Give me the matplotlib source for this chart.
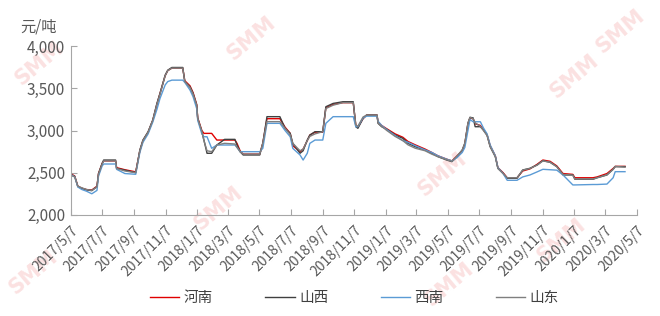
import matplotlib
matplotlib.use("Agg")
import matplotlib.pyplot as plt
import pandas as pd

plt.rcParams['font.family'] = ['Noto Sans CJK SC', 'DejaVu Sans']

dates = ["2017-05-07","2017-05-15","2017-05-21","2017-05-29","2017-06-07","2017-06-17","2017-06-27","2017-06-30",
         "2017-07-07","2017-07-10","2017-08-02","2017-08-04","2017-08-20","2017-09-10","2017-09-18","2017-09-24",
         "2017-10-04","2017-10-13","2017-10-21","2017-10-27","2017-11-06","2017-11-11","2017-11-19","2017-12-10",
         "2017-12-14","2017-12-24","2017-12-30","2018-01-06","2018-01-08","2018-01-16","2018-01-20","2018-01-26",
         "2018-02-04","2018-02-14","2018-03-01","2018-03-21","2018-03-25","2018-03-31","2018-04-06","2018-05-08",
         "2018-05-14","2018-05-22","2018-06-16","2018-06-26","2018-07-06","2018-07-11","2018-07-25","2018-07-31",
         "2018-08-08","2018-08-13","2018-08-23","2018-09-07","2018-09-13","2018-09-27","2018-10-16","2018-11-05",
         "2018-11-10","2018-11-14","2018-11-24","2018-12-01","2018-12-21","2018-12-23","2018-12-30","2019-01-09",
         "2019-01-25","2019-02-09","2019-02-19","2019-03-05","2019-03-24","2019-04-06","2019-04-18","2019-05-05",
         "2019-05-15","2019-05-25","2019-06-04","2019-06-09","2019-06-15","2019-06-19","2019-06-25","2019-06-29",
         "2019-07-09","2019-07-15","2019-07-22","2019-07-28","2019-08-07","2019-08-12","2019-08-22","2019-08-30",
         "2019-09-18","2019-09-29","2019-10-13","2019-10-27","2019-11-07","2019-11-21","2019-12-04","2019-12-16",
         "2020-01-04","2020-01-08","2020-02-12","2020-02-20","2020-03-10","2020-03-22","2020-03-26","2020-04-14"]

henan = [2490,2460,2340,2315,2300,2295,2340,2490,2610,2640,2640,2560,2535,2510,2760,2880,
         2980,3120,3310,3440,3650,3710,3740,3740,3590,3530,3450,3310,3150,3000,2966,2966,
         2966,2887,2887,2887,2848,2760,2720,2720,2850,3140,3140,3040,2966,2820,2750,2780,
         2880,2946,2980,2980,3270,3310,3330,3330,3060,3040,3140,3183,3183,3100,3060,3020,
         2960,2920,2870,2830,2780,2740,2700,2660,2640,2700,2760,2840,3080,3150,3140,3080,
         3060,3010,2950,2820,2700,2560,2500,2440,2440,2520,2545,2600,2650,2635,2580,2490,
         2480,2440,2440,2450,2490,2550,2575,2575]

shanxi = [2480,2455,2335,2315,2296,2287,2335,2490,2610,2650,2650,2552,2530,2500,2769,2887,
          2986,3124,3321,3440,3656,3715,3747,3747,3577,3518,3440,3301,3144,2986,2887,2730,
          2730,2828,2895,2895,2828,2749,2710,2710,2850,3164,3164,3026,2966,2848,2730,2760,
          2887,2946,2986,2986,3282,3321,3341,3341,3045,3026,3144,3183,3183,3085,3045,3014,
          2946,2907,2848,2808,2769,2730,2690,2650,2631,2690,2769,2848,3085,3156,3150,3045,
          3045,3006,2946,2808,2690,2552,2493,2434,2434,2532,2552,2592,2642,2623,2572,2473,
          2473,2422,2422,2440,2473,2540,2572,2572]

xinan = [2480,2450,2330,2300,2280,2250,2290,2460,2580,2603,2603,2540,2490,2481,2740,2860,
         2960,3100,3250,3380,3540,3580,3597,3597,3570,3480,3400,3260,3120,2960,2926,2926,
         2789,2828,2828,2828,2800,2749,2749,2749,2789,3085,3085,3000,2926,2789,2710,2650,
         2730,2848,2887,2887,3085,3164,3164,3164,3045,3045,3150,3170,3170,3110,3060,3010,
         2940,2880,2860,2820,2770,2740,2700,2660,2640,2680,2740,2800,3000,3130,3104,3104,
         3104,3030,2960,2830,2700,2560,2490,2410,2410,2450,2473,2510,2540,2535,2530,2473,
         2355,2355,2360,2360,2365,2440,2512,2512]

shandong = [2470,2450,2340,2320,2300,2290,2330,2480,2600,2640,2640,2550,2520,2500,2760,2880,
            2980,3120,3310,3430,3650,3710,3740,3740,3580,3510,3430,3300,3140,2990,2880,2760,
            2749,2828,2848,2840,2800,2749,2720,2720,2850,3105,3105,3026,2950,2848,2760,2780,
            2880,2930,2960,2986,3260,3300,3330,3330,3065,3050,3160,3183,3183,3090,3050,3000,
            2930,2880,2830,2790,2760,2720,2690,2655,2635,2700,2770,2850,3090,3156,3140,3090,
            3050,3000,2940,2810,2690,2550,2490,2440,2440,2530,2550,2590,2640,2625,2570,2480,
            2470,2425,2425,2440,2475,2540,2575,2565]

series_names = ["河南", "山西", "西南", "山东"]
series_colors = ["#e00000", "#404040", "#5b9bd5", "#7f7f7f"]
tick_dates = ["2017-05-07","2017-07-07","2017-09-07","2017-11-07","2018-01-07","2018-03-07","2018-05-07",
              "2018-07-07","2018-09-07","2018-11-07","2019-01-07","2019-03-07","2019-05-07","2019-07-07",
              "2019-09-07","2019-11-07","2020-01-07","2020-03-07","2020-05-07"]
y_ticks = [2000, 2500, 3000, 3500, 4000]

x = pd.to_datetime(dates)
tx = pd.to_datetime(tick_dates)

fig = plt.figure(figsize=(6.6, 3.16), dpi=100)

# faint watermarks (behind the plot)
wm = [(0.06, 0.80), (0.38, 0.88), (0.87, 0.76), (0.94, 0.90), (0.33, 0.34), (0.67, 0.45),
      (0.85, 0.24), (0.05, 0.14), (0.68, 0.10)]
for (wx, wy) in wm:
    fig.text(wx, wy, "SMM", fontsize=15, fontweight="bold", color="#fbe1e1", rotation=40,
             ha="center", va="center", zorder=-5, family="DejaVu Sans")

ax = fig.add_axes([0.107, 0.320, 0.858, 0.534])
ax.patch.set_alpha(0)

for name, vals, col in zip(series_names, [henan, shanxi, xinan, shandong], series_colors):
    ax.plot(x, vals, color=col, lw=1.0, label=name)

ax.set_ylim(2000, 4000)
ax.set_yticks(y_ticks)
ax.set_yticklabels([f"{v:,}" for v in y_ticks], fontsize=11, color="#595959")
ax.set_xlim(tx[0], tx[-1])
ax.set_xticks(tx)
ax.set_xticklabels([f"{d.year}/{d.month}/{d.day}" for d in tx],
                   rotation=45, ha="right", rotation_mode="anchor", fontsize=10, color="#595959")
for s in ["top", "right"]:
    ax.spines[s].set_visible(False)
for s in ["left", "bottom"]:
    ax.spines[s].set_color("#a6a6a6")
ax.tick_params(axis="both", direction="in", length=4, color="#a6a6a6", pad=4)
ax.tick_params(axis="x", pad=6)

fig.text(0.03, 0.915, "元/吨", fontsize=11, color="#595959", ha="left", va="center")

fig.legend(loc="center", bbox_to_anchor=(0.537, 0.058), ncol=4, frameon=False,
           fontsize=10.5, handlelength=2.0, columnspacing=3.6, handletextpad=0.3,
           labelcolor="#404040")

fig.savefig("out.png", dpi=100)
